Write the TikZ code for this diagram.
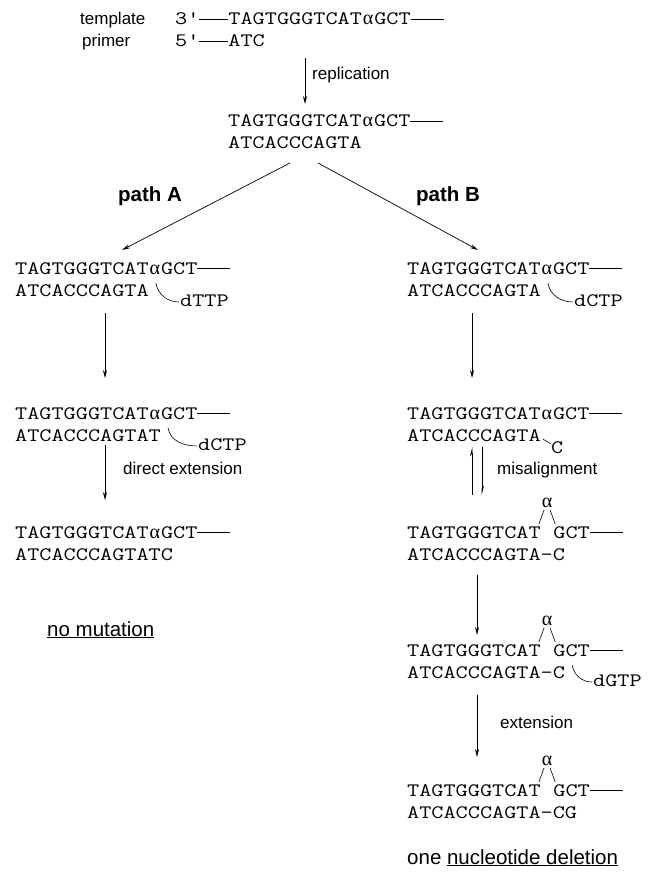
\documentclass[tikz,border=0pt]{standalone}
\usepackage{fontspec}
\setmainfont{Liberation Sans}
\newfontfamily\seqfont[FakeStretch=1.24]{Latin Modern Mono}
\newfontfamily\grk{Liberation Serif}
\usetikzlibrary{arrows.meta,calc}
\newcommand\seqline{\rule[0.3em]{33pt}{0.6pt}}
\newcommand\shortline{\rule[0.3em]{29pt}{0.6pt}}
\newcommand\al{{\grk\fontsize{20}{22}\selectfont α}}
\newcommand\ial{\makebox[12.35pt]{\al}}
\begin{document}
\begin{tikzpicture}[x=1pt,y=-1pt,
  seq/.style={font=\seqfont\fontsize{19}{22}\selectfont, anchor=base west, inner sep=0pt},
  lab/.style={font=\fontsize{17}{19}\selectfont, anchor=base west, inner sep=0pt},
  big/.style={font=\fontsize{20.5}{22}\selectfont, anchor=base west, inner sep=0pt},
  bigb/.style={font=\bfseries\fontsize{20.5}{22}\selectfont, anchor=base west, inner sep=0pt},
  arr/.style={-{Stealth[length=8pt,width=4pt]}, line width=0.7pt},
  harp/.style={-{Stealth[length=8pt,width=4pt,harpoon]}, line width=0.7pt},
  thinl/.style={line width=0.6pt}]
\useasboundingbox (0,0) rectangle (653,877);
\newcommand\gapstrand[2]{%
  \node[seq] (#1a) at (#2) {TAGTGGGTCAT};
  \node[seq] (#1c) at ($(#1a.base east)+(12.35,0)$) {GCT\seqline};
  \node[seq, anchor=base] (#1x) at ($(#1a.base east)+(6.2,-31)$) {\al};
  \draw[thinl] ($(#1a.base east)+(-2,-14)$) -- ($(#1x.base)+(-3,3)$);
  \draw[thinl] ($(#1x.base)+(3,3)$) -- ($(#1c.base west)+(2,-14)$);
}
\newcommand\hookto[2]{\draw[thinl] ($(#1.base east)+(7,-13)$) to[out=-80,in=180] ($(#2.base west)+(-1,-4)$);}

% top
\node[lab] (tpl) at (80,25) {template};
\node[lab] (prm) at (82,47) {primer};
\node[seq] (t3) at (175,25) {3'\shortline TAGTGGGTCAT\ial GCT\seqline};
\node[seq] (p5) at (175,47) {5'\shortline ATC};
\coordinate (r1) at (305,58);
\coordinate (r2) at (305,104);
\draw[arr] (r1) -- (r2);
\node[lab] (rep) at (312,80) {replication};

% block 2
\node[seq] (b2t) at (228,127) {TAGTGGGTCAT\ial GCT\seqline};
\node[seq] (b2b) at (228,149) {ATCACCCAGTA};
\node[bigb] (pA) at (118,202) {path A};
\node[bigb] (pB) at (416,202) {path B};
\coordinate (brA1) at (290,163);
\coordinate (brA2) at (122,250);
\coordinate (brB1) at (318,163);
\coordinate (brB2) at (478,250);
\draw[arr] (brA1) -- (brA2);
\draw[arr] (brB1) -- (brB2);

% left column
\node[seq] (b3Lt) at (15,274) {TAGTGGGTCAT\ial GCT\seqline};
\node[seq] (b3Lb) at (15,296) {ATCACCCAGTA};
\node[seq] (d3L) at (180,306) {dTTP};
\hookto{b3Lb}{d3L}
\coordinate (aL1) at (105,313);
\coordinate (aL2) at (105,378);
\draw[arr] (aL1) -- (aL2);
\node[seq] (b4Lt) at (15,419) {TAGTGGGTCAT\ial GCT\seqline};
\node[seq] (b4Lb) at (15,441) {ATCACCCAGTAT};
\node[seq] (d4L) at (198,450) {dCTP};
\hookto{b4Lb}{d4L}
\coordinate (aL3) at (105,445);
\coordinate (aL4) at (105,500);
\draw[arr] (aL3) -- (aL4);
\node[lab] (dext) at (123,474) {direct extension};
\node[seq] (b5Lt) at (15,538) {TAGTGGGTCAT\ial GCT\seqline};
\node[seq] (b5Lb) at (15,560) {ATCACCCAGTATC};
\node[big] (nomut) at (47,636) {\underline{no mutation}};

% right column
\node[seq] (b3Rt) at (407,274) {TAGTGGGTCAT\ial GCT\seqline};
\node[seq] (b3Rb) at (407,296) {ATCACCCAGTA};
\node[seq] (d3R) at (574,306) {dCTP};
\hookto{b3Rb}{d3R}
\coordinate (aR1) at (472,313);
\coordinate (aR2) at (472,378);
\draw[arr] (aR1) -- (aR2);
\node[seq] (b4Rt) at (407,419) {TAGTGGGTCAT\ial GCT\seqline};
\node[seq] (b4Rb) at (407,441) {ATCACCCAGTA};
\node[seq] (c4R) at ($(b4Rb.base east)+(10,12)$) {C};
\draw[thinl] ($(b4Rb.base east)+(2,-2)$) -- ($(c4R.base west)+(0,-9)$);
\coordinate (hU1) at (472,495);
\coordinate (hU2) at (472,447);
\coordinate (hD1) at (482,447);
\coordinate (hD2) at (482,495);
\draw[harp] (hU1) -- (hU2);
\draw[harp] (hD1) -- (hD2);
\node[lab] (mis) at (497,474) {misalignment};

\gapstrand{b5R}{407,538}
\node[seq] (b5Rb) at (407,560) {ATCACCCAGTA-C};
\coordinate (aR3) at (477,575);
\coordinate (aR4) at (477,635);
\draw[arr] (aR3) -- (aR4);

\gapstrand{b6R}{407,656}
\node[seq] (b6Rb) at (407,678) {ATCACCCAGTA-C};
\node[seq] (d6R) at (593,686) {dGTP};
\hookto{b6Rb}{d6R}
\coordinate (aR5) at (477,695);
\coordinate (aR6) at (477,757);
\draw[arr] (aR5) -- (aR6);
\node[lab] (ext) at (500,728) {extension};

\gapstrand{b7R}{407,796}
\node[seq] (b7Rb) at (407,818) {ATCACCCAGTA-CG};
\node[big] (del) at (407,864) {one \underline{nucleotide deletion}};
\end{tikzpicture}
\end{document}
